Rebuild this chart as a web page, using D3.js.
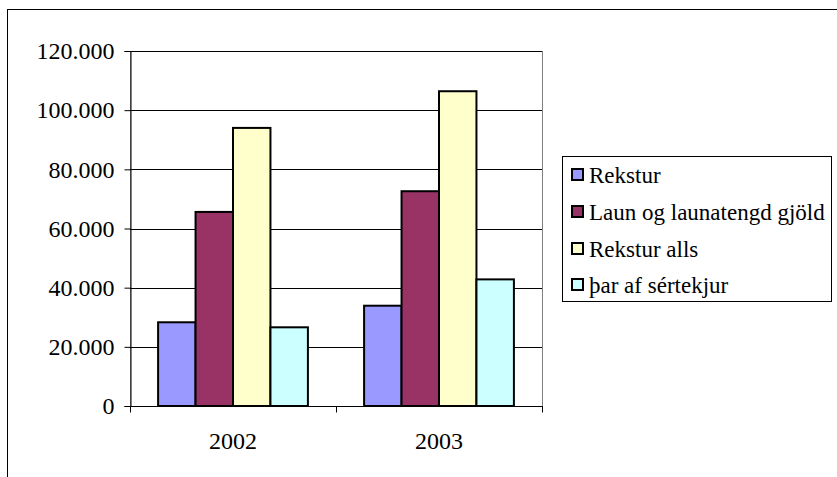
<!DOCTYPE html>
<html><head><meta charset="utf-8">
<script src="https://cdn.jsdelivr.net/npm/d3@7"></script>
</head><body style="margin:0;background:#fff">
<svg id="c" width="837" height="477" style="display:block"></svg>
<script>
const categories = ["2002", "2003"];
const seriesNames = ["Rekstur", "Laun og launatengd gjöld", "Rekstur alls", "þar af sértekjur"];
const rekstur = [28300, 33900];
const laun = [65600, 72600];
const reksturAlls = [94000, 106400];
const sertekjur = [26600, 42800];
const yTicks = [0, 20000, 40000, 60000, 80000, 100000, 120000];
const colors = ["#9999FF", "#993366", "#FFFFCC", "#CCFFFF"];

const seriesValues = [rekstur, laun, reksturAlls, sertekjur];
const svg = d3.select("#c");
const FONT = "'Liberation Serif', Tinos, 'Times New Roman', 'Nimbus Roman', FreeSerif, 'DejaVu Serif', serif";
const fsAxis = 24, fsLeg = 23;
const L = 130, R = 542, T = 51, B = 406;

// outer chart border
svg.append("rect").attr("x", 7.5).attr("y", 9.5).attr("width", 900).attr("height", 600)
  .attr("fill", "none").attr("stroke", "#000").attr("stroke-width", 1);

const x = d3.scaleBand().domain(categories).range([L, R]).padding(0);
const xs = d3.scaleBand().domain(seriesNames).range([0, x.bandwidth()]).paddingInner(0).paddingOuter(0.75);
const y = d3.scaleLinear().domain([0, 120000]).range([B, T]);
const loc = d3.formatLocale({decimal: ",", thousands: ".", grouping: [3], currency: ["", ""]});
const fmt = loc.format(",");

// plot area border
svg.append("rect").attr("x", L + 0.5).attr("y", T + 0.5).attr("width", R - L).attr("height", B - T)
  .attr("fill", "none").attr("stroke", "#808080");

// gridlines
svg.append("g").selectAll("line").data(yTicks.filter(d => d > 0)).join("line")
  .attr("x1", L).attr("x2", R).attr("y1", d => Math.round(y(d)) + 0.5).attr("y2", d => Math.round(y(d)) + 0.5)
  .attr("stroke", "#000").attr("stroke-width", 1);

// bars
const rows = [];
categories.forEach((c, i) => seriesNames.forEach((s, j) => rows.push({c, s, j, v: seriesValues[j][i]})));
svg.append("g").selectAll("rect").data(rows).join("rect")
  .attr("x", d => x(d.c) + xs(d.s))
  .attr("y", d => y(d.v))
  .attr("width", xs.bandwidth())
  .attr("height", d => B - y(d.v))
  .attr("fill", d => colors[d.j])
  .attr("stroke", "#000").attr("stroke-width", 2);

// y axis
const yAxis = d3.axisLeft(y).tickValues(yTicks).tickFormat(fmt).tickSize(6).tickPadding(10);
const gy = svg.append("g").attr("transform", `translate(${L + 0.5},0)`).call(yAxis);
gy.attr("font-family", FONT).attr("font-size", fsAxis);
gy.select(".domain").attr("stroke", "#000");
gy.selectAll("text").style("font-family", FONT).attr("fill", "#000");
gy.selectAll(".tick line").attr("stroke", "#000");

// x axis
const gx = svg.append("g").attr("transform", `translate(0,${B + 0.5})`);
gx.append("line").attr("x1", L).attr("x2", R + 1).attr("stroke", "#000");
const bounds = [L, ...categories.map(c => x(c) + x.bandwidth())];
gx.selectAll("line.t").data(bounds).join("line").attr("class", "t")
  .attr("x1", d => d + 0.5).attr("x2", d => d + 0.5).attr("y1", 0).attr("y2", 6).attr("stroke", "#000");
gx.selectAll("text").data(categories).join("text")
  .attr("x", d => x(d) + x.bandwidth() / 2).attr("y", 42)
  .attr("text-anchor", "middle").style("font-family", FONT).attr("font-size", fsAxis).text(d => d);

// legend
const lg = svg.append("g");
lg.append("rect").attr("x", 562.5).attr("y", 156.5).attr("width", 269).attr("height", 145)
  .attr("fill", "#fff").attr("stroke", "#000");
const rowY = [175, 212, 249, 285];
seriesNames.forEach((s, j) => {
  lg.append("rect").attr("x", 572).attr("y", rowY[j] - 6).attr("width", 11).attr("height", 11)
    .attr("fill", colors[j]).attr("stroke", "#000").attr("stroke-width", 2);
  lg.append("text").attr("x", 589).attr("y", rowY[j] + 8)
    .style("font-family", FONT).attr("font-size", fsLeg).text(s);
});
</script>
</body></html>
